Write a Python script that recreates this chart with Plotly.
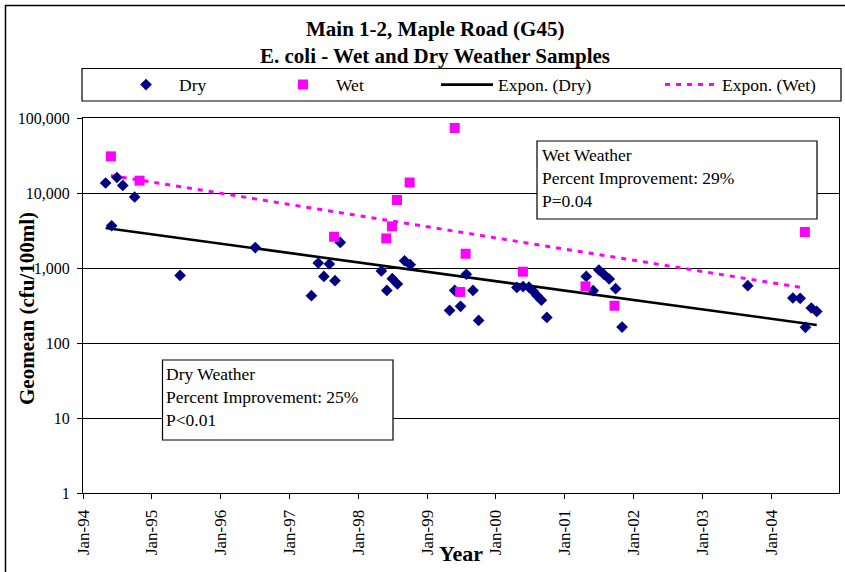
import numpy as np
import pandas as pd
import plotly.graph_objects as go

# ---- data -------------------------------------------------------------
dry_dates = [
    "1994-05-01", "1994-06-02", "1994-06-30", "1994-07-31", "1994-10-02",
    "1995-05-31", "1996-07-03",
    "1997-04-27", "1997-06-02", "1997-07-02", "1997-07-31", "1997-08-30", "1997-09-27",
    "1998-05-03", "1998-06-01", "1998-06-30", "1998-07-27", "1998-09-03", "1998-10-03",
    "1999-04-30", "1999-05-27", "1999-06-27", "1999-07-28", "1999-09-01", "1999-10-01",
    "2000-04-21", "2000-05-24", "2000-06-24", "2000-07-16", "2000-08-06", "2000-08-29",
    "2000-09-27",
    "2001-04-24", "2001-05-31", "2001-06-30", "2001-07-26", "2001-08-24", "2001-09-27",
    "2001-10-31",
    "2003-08-29",
    "2004-04-24", "2004-06-02", "2004-06-30", "2004-07-31", "2004-08-29",
]
dry_values = [
    13600, 3660, 16100, 12600, 8850,
    796, 1870,
    428, 1166, 773, 1130, 677, 2190,
    912, 503, 720, 612, 1250, 1107,
    272, 503, 308, 826, 503, 200,
    551, 565, 555, 493, 427, 372,
    219,
    773, 498, 940, 826, 713, 530,
    163,
    581,
    398, 394, 162, 293, 264,
]

wet_dates = [
    "1994-05-29", "1994-10-28", "1997-08-25", "1998-05-29", "1998-06-28",
    "1998-07-25", "1998-09-30", "1999-05-27", "1999-06-25", "1999-07-24",
    "2000-05-23", "2001-04-20", "2001-09-21", "2004-06-27",
]
wet_values = [
    30800, 14600, 2610, 2480, 3590,
    8070, 13800, 73600, 479, 1550,
    893, 569, 314, 3020,
]

year_ticks = [f"{y}-01-01" for y in range(1994, 2005)]
year_labels = [f"Jan-{str(y)[-2:]}" for y in range(1994, 2005)]
y_tick_vals = [1, 10, 100, 1000, 10000, 100000]
y_tick_text = ["1", "10", "100", "1,000", "10,000", "100,000"]

FONT = "Liberation Serif"
NAVY = "#000080"
MAGENTA = "#FF00FF"

# ---- figure geometry (pixels) ------------------------------------------
W, H = 845, 572
L, R, T, B = 83, 6, 118, 79
PW, PH = W - L - R, H - T - B


def px_x(px):
    return (px - L) / PW


def px_y(py):
    return (H - B - py) / PH


def expon_trend(dates, values, n=80):
    """Least-squares exponential fit (straight line in log space)."""
    t = pd.to_datetime(pd.Series(dates))
    days = (t - t.min()).dt.days.to_numpy(dtype=float)
    slope, intercept = np.polyfit(days, np.log10(values), 1)
    grid = np.linspace(days.min(), days.max(), n)
    return t.min() + pd.to_timedelta(grid, unit="D"), 10 ** (intercept + slope * grid)


dry_tx, dry_ty = expon_trend(dry_dates, dry_values)
wet_tx, wet_ty = expon_trend(wet_dates, wet_values)

fig = go.Figure()

fig.add_trace(go.Scatter(
    x=dry_tx, y=dry_ty, mode="lines", name="Expon. (Dry)",
    line=dict(color="black", width=2.6), legend="legend3",
))
fig.add_trace(go.Scatter(
    x=wet_tx, y=wet_ty, mode="lines", name="Expon. (Wet)",
    line=dict(color=MAGENTA, width=3, dash="5px,6px"), legend="legend4",
))
fig.add_trace(go.Scatter(
    x=dry_dates, y=dry_values, mode="markers", name="Dry",
    marker=dict(symbol="diamond", size=9, color=NAVY), legend="legend",
))
fig.add_trace(go.Scatter(
    x=wet_dates, y=wet_values, mode="markers", name="Wet",
    marker=dict(symbol="square", size=10, color=MAGENTA), legend="legend2",
))

legend_font = dict(family=FONT, size=17.5, color="black")
leg_y = px_y(84.7)


def legend_at(px, itemwidth):
    return dict(
        x=px_x(px), y=leg_y, xanchor="left", yanchor="middle",
        orientation="h", itemwidth=itemwidth, font=legend_font,
        bgcolor="rgba(0,0,0,0)", borderwidth=0,
    )


fig.update_layout(
    width=W, height=H,
    margin=dict(l=L, r=R, t=T, b=B, autoexpand=False),
    paper_bgcolor="white", plot_bgcolor="white",
    font=dict(family=FONT, size=16, color="black"),
    showlegend=True,
    legend=legend_at(113, 56),
    legend2=legend_at(270, 56),
    legend3=legend_at(436, 52),
    legend4=legend_at(660, 52),
)

fig.update_xaxes(
    type="date", range=["1994-01-01", "2004-12-25"],
    tickvals=year_ticks, ticktext=year_labels, tickangle=-90,
    ticks="outside", ticklen=5, tickcolor="black",
    showgrid=False, zeroline=False,
    showline=True, linecolor="black", linewidth=1, mirror=True,
    tickfont=dict(family=FONT, size=17, color="black"),
    ticklabelstandoff=4,
)
fig.update_yaxes(
    type="log", range=[0, 5],
    tickvals=y_tick_vals, ticktext=y_tick_text,
    ticks="outside", ticklen=5, tickcolor="black",
    showgrid=True, gridcolor="black", gridwidth=1,
    showline=True, linecolor="black", linewidth=1, mirror=True,
    tickfont=dict(family=FONT, size=16, color="black"),
    ticklabelstandoff=4,
)

shapes = []
# chart frame (left and top edges)
shapes.append(dict(type="line", xref="paper", yref="paper",
                   x0=px_x(5.5), x1=px_x(5.5), y0=px_y(5), y1=px_y(600),
                   line=dict(color="black", width=1.5)))
shapes.append(dict(type="line", xref="paper", yref="paper",
                   x0=px_x(5), x1=px_x(860), y0=px_y(5.5), y1=px_y(5.5),
                   line=dict(color="black", width=1.5)))
# legend frame
shapes.append(dict(type="rect", xref="paper", yref="paper",
                   x0=px_x(82), x1=px_x(841), y0=px_y(68.5), y1=px_y(101),
                   line=dict(color="black", width=1.2), fillcolor="rgba(0,0,0,0)"))
# text boxes
shapes.append(dict(type="rect", xref="paper", yref="paper",
                   x0=px_x(537), x1=px_x(817), y0=px_y(141), y1=px_y(219),
                   line=dict(color="black", width=1.2), fillcolor="white"))
shapes.append(dict(type="rect", xref="paper", yref="paper",
                   x0=px_x(162.5), x1=px_x(393), y0=px_y(360), y1=px_y(440),
                   line=dict(color="black", width=1.2), fillcolor="white"))
fig.update_layout(shapes=shapes)

box_font = dict(family=FONT, size=17.5, color="black")
annotations = [
    dict(text="<b>Main 1-2, Maple Road (G45)</b>", x=px_x(435), y=px_y(29),
         font=dict(family=FONT, size=21, color="black")),
    dict(text="<b>E. coli - Wet and Dry Weather Samples</b>", x=px_x(435), y=px_y(56),
         font=dict(family=FONT, size=21, color="black")),
    dict(text="<b>Geomean (cfu/100ml)</b>", x=px_x(27), y=px_y(309), textangle=-90,
         font=dict(family=FONT, size=21, color="black")),
    dict(text="<b>Year</b>", x=px_x(461), y=px_y(553),
         font=dict(family=FONT, size=22, color="black")),
    dict(text="Wet Weather<br>Percent Improvement: 29%<br>P=0.04",
         x=px_x(540), y=px_y(178), xanchor="left", align="left", font=box_font),
    dict(text="Dry Weather<br>Percent Improvement: 25%<br>P<0.01",
         x=px_x(164), y=px_y(397), xanchor="left", align="left", font=box_font),
]
for a in annotations:
    a.setdefault("xanchor", "center")
    a.update(xref="paper", yref="paper", yanchor="middle", showarrow=False)
fig.update_layout(annotations=annotations)

fig.write_html("out.html")
